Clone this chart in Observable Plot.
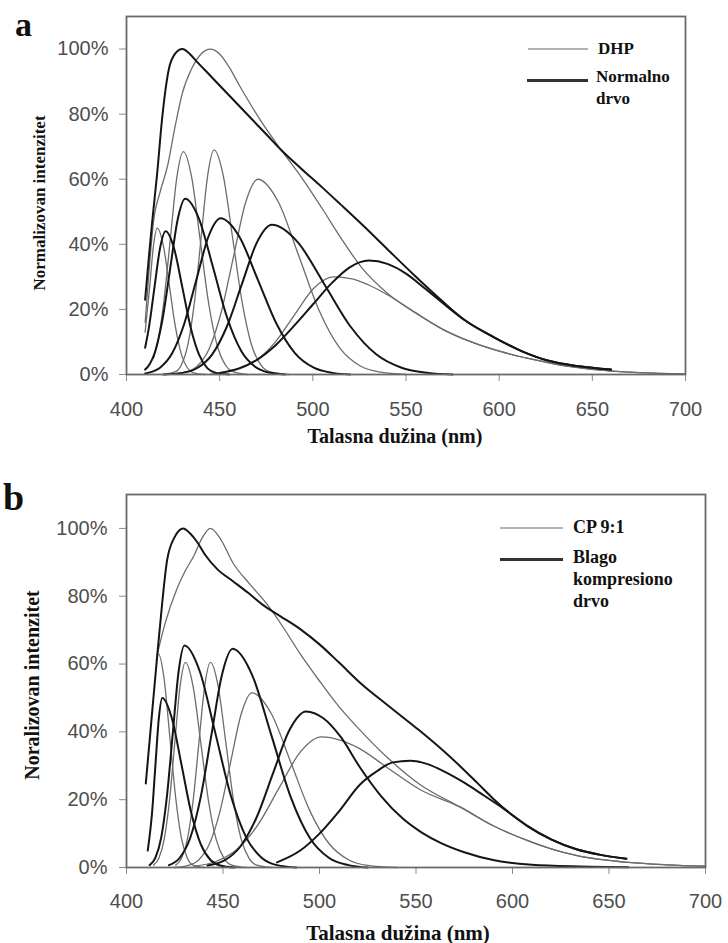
<!DOCTYPE html>
<html>
<head>
<meta charset="utf-8">
<script src="https://cdn.jsdelivr.net/npm/d3@7"></script>
<script src="https://cdn.jsdelivr.net/npm/@observablehq/plot@0.6"></script>
<style>
  body { margin: 0; background: #fff; }
  #wrap { position: relative; width: 728px; height: 943px; overflow: hidden; background: #fff; }
  .abs { position: absolute; white-space: nowrap; }
  .serif { font-family: "Liberation Serif", "Times New Roman", serif; font-weight: bold; color: #111; }
</style>
</head>
<body>
<div id="wrap">
  <div id="pa" class="abs" style="left:0;top:0"></div>
  <div id="pb" class="abs" style="left:0;top:460px"></div>

  <div class="abs serif" style="left:15px;top:8px;font-size:34px;line-height:34px;">a</div>
  <div class="abs serif" style="left:3px;top:478px;font-size:38px;line-height:38px;">b</div>

  <div class="abs serif" style="left:39px;top:203px;font-size:17px;line-height:17px;transform:translate(-50%,-50%) rotate(-90deg);">Normalizovan intenzitet</div>
  <div class="abs serif" style="left:32px;top:685px;font-size:20px;line-height:20px;transform:translate(-50%,-50%) rotate(-90deg);">Noralizovan intenzitet</div>

  <div class="abs serif" style="left:395px;top:436px;font-size:20px;line-height:20px;transform:translate(-50%,-50%);">Talasna dužina (nm)</div>
  <div class="abs serif" style="left:398px;top:933px;font-size:21px;line-height:21px;transform:translate(-50%,-50%);">Talasna dužina (nm)</div>

  <!-- legend a -->
  <div class="abs" style="left:528px;top:48px;width:60px;border-top:2px solid #b3b3b3;"></div>
  <div class="abs serif" style="left:598px;top:39px;font-size:17px;line-height:20px;">DHP</div>
  <div class="abs" style="left:527px;top:79px;width:61px;border-top:3px solid #333;"></div>
  <div class="abs serif" style="left:596px;top:66px;font-size:17px;line-height:22px;">Normalno<br>drvo</div>

  <!-- legend b -->
  <div class="abs" style="left:500px;top:527px;width:63px;border-top:2px solid #b3b3b3;"></div>
  <div class="abs serif" style="left:573px;top:516px;font-size:18px;line-height:22px;">CP 9:1</div>
  <div class="abs" style="left:500px;top:558px;width:63px;border-top:3px solid #333;"></div>
  <div class="abs serif" style="left:573px;top:546px;font-size:18px;line-height:22px;">Blago<br>kompresiono<br>drvo</div>
</div>
<script>
// ---------- axis ticks ----------
const xTicks = [400, 450, 500, 550, 600, 650, 700];
const yTicks = [0, 20, 40, 60, 80, 100];

// ---------- Panel a : DHP (thin) [nm, %] ----------
const dhpEnvelopeA = [[410,16],[412,31],[414.5,47],[418,56],[422,64],[426,76],[430,86.5],[435,94],[440,98.5],[445,100],[450,98.5],[455,94.5],[461,88.4],[472,78],[483,69],[494,60.5],[505,51],[515,42],[526,33],[540,25],[555,19],[570,13.8],[585,10],[601,7],[615,5],[630,3.2],[650,1.6],[675,0.6],[700,0.2]];
const dhpComp1A = [[410,13],[412.5,27.3],[414.5,39.7],[416.5,45],[419.75,39.7],[423,27.3],[426.25,14.6],[429.5,6.1],[432.75,2.0],[436,0.5],[442,0]];
const dhpComp2A = [[414.5,5.0],[416.5,9.3],[420,22.2],[423.5,41.5],[427,60.5],[430.5,68.5],[435,60.5],[439.5,41.5],[444,22.2],[448.5,9.3],[453,3.0],[457.5,0.8],[465,0]];
const dhpComp3A = [[419,0],[426,0.8],[429.5,3.0],[433,9.3],[436.5,22.4],[440,41.8],[443.5,60.9],[447,69],[452,60.9],[457,41.8],[462,22.4],[467,9.3],[472,3.0],[477,0.8],[487,0]];
const dhpComp4A = [[421,0],[431.5,0.7],[438,2.6],[444.5,8.1],[451,19.5],[457.5,36.4],[464,53],[470.5,60],[481.5,53],[492.5,36.4],[503.5,19.5],[514.5,8.1],[525.5,2.6],[536.5,0.7],[550,0]];
const dhpComp5A = [[445,0],[450,0.5],[458,1.3],[469,4.1],[479.5,9.7],[490,18.2],[500.5,26.5],[511,30],[521,29.4],[530,27.5],[540,24.5],[555,19],[570,13.8],[585,10],[601,7],[615,5],[630,3.2],[650,1.6],[675,0.6],[700,0.2]];

// ---------- Panel a : Normalno drvo (thick) ----------
const normEnvelopeA = [[410,23],[412,36],[413.8,47],[416.5,62],[419,78],[422.6,93.5],[426,98.5],[430,100],[434,98.5],[437,96.6],[445,91.8],[455,85.8],[465,79.8],[475,73.8],[483,69],[493.5,63.4],[505,57.5],[515,52.2],[526,46.3],[540,38.5],[555,30.2],[569,22.8],[582,16.5],[597,11.5],[612,7.2],[626,4.3],[643,2.5],[660,1.5]];
const normComp1A = [[410,8.2],[412,14.3],[415,26.7],[418,38.8],[421,44],[425.5,38.8],[430,26.7],[434.5,14.3],[439,6.0],[443.5,1.9],[448,0.5],[455,0]];
const normComp2A = [[410,1.5],[411.5,2.4],[415.5,7.3],[419.5,17.5],[423.5,32.8],[427.5,47.7],[431.5,54],[439,47.7],[446.5,32.8],[454,17.5],[461.5,7.3],[469,2.4],[476.5,0.6],[485,0]];
const normComp3A = [[410,0.3],[411.5,0.5],[418,2.1],[424.5,6.5],[431,15.6],[437.5,29.1],[444,42.4],[450.5,48],[460.5,42.4],[470.5,29.1],[480.5,15.6],[490.5,6.5],[500.5,2.1],[510.5,0.5],[520,0]];
const normComp4A = [[420,0],[430,0.5],[438,2.0],[446,6.2],[454,14.9],[462,27.9],[470,40.6],[478,46],[492,40.6],[506,27.9],[520,14.9],[534,6.2],[548,2.0],[562,0.5],[575,0]];
const normComp5A = [[450,0.5],[460,1.8],[470,4.5],[480,9],[490,15],[500,21.5],[510,28],[520,33],[530,35],[540,34],[550,31],[560,26.5],[570,21.8],[582,16.5],[597,11.5],[612,7.2],[626,4.3],[643,2.5],[660,1.5]];

// ---------- Panel b : CP 9:1 (thin) ----------
const cpEnvelopeB = [[416,63],[420,72],[426,82],[430,87],[435,92],[439,97],[443.5,100],[448,97.5],[455.5,89.5],[464,83.5],[473,77.5],[481,71],[490,63],[500,55],[510,47.5],[521,40.5],[535,32.5],[552,24.5],[573,17.8],[590,12.3],[607.6,8],[620,5.5],[633.5,3.5],[660,1.5],[680,0.8],[700,0.4]];
const cpComp1B = [[415.5,61],[416.5,63],[419.5,55.6],[422.5,38.2],[425.5,20.5],[428.5,8.5],[431.5,2.8],[434.5,0.7],[440,0]];
const cpComp2B = [[414,0.7],[416.75,2.7],[419.5,8.2],[422.25,19.6],[425,36.7],[427.75,53.4],[430.5,60.5],[434.5,53.4],[438.5,36.7],[442.5,19.6],[446.5,8.2],[450.5,2.7],[454.5,0.7],[462,0]];
const cpComp3B = [[425.5,0.7],[428.5,2.7],[431.5,8.2],[434.5,19.6],[437.5,36.7],[440.5,53.4],[443.5,60.5],[447.5,53.4],[451.5,36.7],[455.5,19.6],[459.5,8.2],[463.5,2.7],[467.5,0.7],[475,0]];
const cpComp4B = [[425,0],[432,0.6],[437.5,2.3],[443,7.0],[448.5,16.7],[454,31.2],[459.5,45.4],[465,51.5],[475,45.4],[485,31.2],[495,16.7],[505,7.0],[515,2.3],[525,0.6],[540,0]];
const cpComp5B = [[435,0.4],[446,1.7],[457,5.2],[468,12.5],[479,23.4],[490,34],[501,38.5],[511,37.5],[521,35],[535,29.5],[552,23],[573,17.8],[590,12.3],[607.6,8],[620,5.5],[633.5,3.5],[660,1.5],[680,0.8],[700,0.4]];

// ---------- Panel b : Blago kompresiono drvo (thick) ----------
const mcwEnvelopeB = [[410,24.8],[413,44],[416,63],[418.5,78],[421,90.5],[425,97.5],[429.4,100],[433,98.5],[436.6,96],[441,92],[447,88],[455,84.5],[463,81],[471,77.3],[480,74],[490,70.3],[500,65.8],[510,60.5],[521,54.5],[535,48],[552,40.3],[563,35],[573,29.8],[582,24.8],[590,20.3],[600,15.4],[607.6,12.3],[620,8.3],[633.5,5.3],[645,3.8],[659,2.6]];
const mcwComp1B = [[411,5],[413.25,16.2],[415,30.3],[416.75,44],[418.5,50],[423.5,44],[428.5,30.3],[433.5,16.2],[438.5,6.8],[443.5,2.2],[448.5,0.6],[456,0]];
const mcwComp2B = [[412,0.7],[415,2.9],[418,8.9],[421,21.3],[424,39.7],[427,57.8],[430,65.5],[438,57.8],[446,39.7],[454,21.3],[462,8.9],[470,2.9],[478,0.7],[488,0]];
const mcwComp3B = [[422,0.7],[427.5,2.8],[433,8.7],[438.5,20.9],[444,39.1],[449.5,56.9],[455,64.5],[465,56.9],[475,39.1],[485,20.9],[495,8.7],[505,2.8],[515,0.7],[525,0]];
const mcwComp4B = [[442,0.6],[450.5,2.0],[459,6.2],[467.5,14.9],[476,27.9],[484.5,40.6],[493,46],[502,44],[511,38.5],[521,29.5],[532,21],[543,14.5],[553,10.3],[563,7.2],[575,4.5],[590,2.2],[610,0.8],[635,0.3],[660,0.1]];
const mcwComp5B = [[478,1.5],[490,5],[500,10],[510,16.5],[521,24.5],[530,28.5],[538,31],[547,31.5],[556,30.5],[565,28.2],[575,25],[585,21.3],[595,17.5],[607.6,12.3],[620,8.3],[633.5,5.3],[645,3.8],[659,2.6]];

// ---------- build tables ----------
function rows(name, pts) { return pts.map(([x, y]) => ({name, x, y})); }
const thinA = [
  ...rows("dhpEnv", dhpEnvelopeA), ...rows("dhp1", dhpComp1A), ...rows("dhp2", dhpComp2A),
  ...rows("dhp3", dhpComp3A), ...rows("dhp4", dhpComp4A), ...rows("dhp5", dhpComp5A)
];
const thickA = [
  ...rows("nEnv", normEnvelopeA), ...rows("n1", normComp1A), ...rows("n2", normComp2A),
  ...rows("n3", normComp3A), ...rows("n4", normComp4A), ...rows("n5", normComp5A)
];
const thinB = [
  ...rows("cpEnv", cpEnvelopeB), ...rows("cp1", cpComp1B), ...rows("cp2", cpComp2B),
  ...rows("cp3", cpComp3B), ...rows("cp4", cpComp4B), ...rows("cp5", cpComp5B)
];
const thickB = [
  ...rows("mEnv", mcwEnvelopeB), ...rows("m1", mcwComp1B), ...rows("m2", mcwComp2B),
  ...rows("m3", mcwComp3B), ...rows("m4", mcwComp4B), ...rows("m5", mcwComp5B)
];

const THIN = "#6c6c6c", THICK = "#151515";

function panel(thin, thick, opts) {
  return Plot.plot({
    width: 728,
    height: opts.height,
    marginLeft: 126,
    marginRight: opts.marginRight,
    marginTop: opts.marginTop,
    marginBottom: opts.marginBottom,
    x: {domain: [400, 700]},
    y: {domain: [0, 110]},
    style: {fontFamily: "'Liberation Sans', Arial, sans-serif", fontSize: "20px", color: "#4e4e4e", background: "transparent", overflow: "visible"},
    marks: [
      Plot.axisX({ticks: xTicks, tickSize: 7, tickPadding: opts.xPad, label: null, stroke: "#8a8a8a", tickFormat: d => String(d)}),
      Plot.axisY({ticks: yTicks, tickSize: 7, tickPadding: opts.yPad, label: null, stroke: "#8a8a8a", tickFormat: d => d + "%"}),
      Plot.line(thin, {x: "x", y: "y", z: "name", stroke: THIN, strokeWidth: 1.3, curve: "monotone-x"}),
      Plot.line(thick, {x: "x", y: "y", z: "name", stroke: THICK, strokeWidth: 2, curve: "monotone-x"}),
      Plot.frame({stroke: "#6a6a6a", strokeWidth: 1.8})
    ]
  });
}

document.getElementById("pa").appendChild(panel(thinA, thickA, {height: 450, marginRight: 43, marginTop: 16, marginBottom: 76, xPad: 20, yPad: 11}));
document.getElementById("pb").appendChild(panel(thinB, thickB, {height: 483, marginRight: 23, marginTop: 34, marginBottom: 76, xPad: 19, yPad: 12}));
</script>
</body>
</html>
